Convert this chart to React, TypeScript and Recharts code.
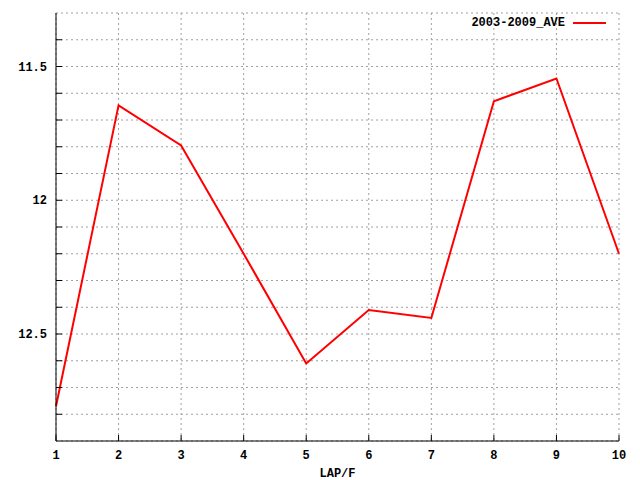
import React from 'react';
import { LineChart, Line, XAxis, YAxis, CartesianGrid } from 'recharts';

const laps = [1, 2, 3, 4, 5, 6, 7, 8, 9, 10];
const aveValues = [12.77, 11.645, 11.795, 12.2, 12.61, 12.41, 12.44, 11.63, 11.545, 12.2];
const seriesName = '2003-2009_AVE';
const yTicks = [11.4, 11.5, 11.6, 11.7, 11.8, 11.9, 12.0, 12.1, 12.2, 12.3, 12.4, 12.5, 12.6, 12.7, 12.8];
const yLabelTicks = [11.5, 12, 12.5];
const xTicks = laps;
const xLabel = 'LAP/F';

const data = laps.map((lap, i) => ({ lap, ave: aveValues[i] }));

const FONT = '"Liberation Mono", "DejaVu Sans Mono", monospace';
const TL = 6;

const fmtY = (v: number) => {
  const r = Math.round(v * 10) / 10;
  return Number.isInteger(r) ? String(r) : r.toFixed(1);
};

const LeftTick = (props: any) => {
  const { x, y, payload } = props;
  const show = yLabelTicks.some((v) => Math.abs(v - payload.value) < 1e-6);
  return (
    <g>
      <line x1={x + 9} x2={x + 9 + TL} y1={y} y2={y} stroke="#000" strokeWidth={1} />
      {show && (
        <text x={x} y={y} dy={4} textAnchor="end" fontFamily={FONT} fontWeight="bold" fontSize={12} fill="#000">
          {fmtY(payload.value)}
        </text>
      )}
    </g>
  );
};

const RightTick = (props: any) => {
  const { x, y } = props;
  return <line x1={x - 9} x2={x - 9 - TL} y1={y} y2={y} stroke="#000" strokeWidth={1} />;
};

const BottomTick = (props: any) => {
  const { x, y, payload } = props;
  return (
    <g>
      <line x1={x} x2={x} y1={y - 9} y2={y - 9 - TL} stroke="#000" strokeWidth={1} />
      <text x={x} y={y} dy={9} textAnchor="middle" fontFamily={FONT} fontWeight="bold" fontSize={12} fill="#000">
        {payload.value}
      </text>
    </g>
  );
};

const TopTick = (props: any) => {
  const { x, y } = props;
  return <line x1={x} x2={x} y1={y + 9} y2={y + 9 + TL} stroke="#000" strokeWidth={1} />;
};

export default function App() {
  return (
    <div style={{ position: 'fixed', left: 0, top: 0, width: 640, height: 480, background: '#fff' }}>
      <LineChart width={640} height={480} data={data} margin={{ top: 13, right: 21, left: 0, bottom: 0 }}>
        <CartesianGrid stroke="#a0a0a0" strokeDasharray="2 3" />
        <XAxis
          dataKey="lap"
          type="number"
          domain={[1, 10]}
          ticks={xTicks}
          height={39}
          tickSize={0}
          tickMargin={9}
          tickLine={false}
          axisLine={{ stroke: '#000', strokeWidth: 1 }}
          tick={<BottomTick />}
          interval={0}
          label={{ value: xLabel, position: 'insideBottom', offset: 3, fontFamily: FONT, fontWeight: 'bold', fontSize: 12, fill: '#000' }}
        />
        <XAxis
          xAxisId="top"
          dataKey="lap"
          type="number"
          orientation="top"
          domain={[1, 10]}
          ticks={xTicks}
          height={0}
          tickSize={0}
          tickMargin={9}
          tickLine={false}
          axisLine={{ stroke: '#000', strokeWidth: 1 }}
          tick={<TopTick />}
          interval={0}
        />
        <YAxis
          type="number"
          domain={[11.3, 12.9]}
          reversed
          ticks={yTicks}
          width={56}
          tickSize={0}
          tickMargin={9}
          tickLine={false}
          axisLine={{ stroke: '#000', strokeWidth: 1 }}
          tick={<LeftTick />}
          interval={0}
          allowDataOverflow
        />
        <YAxis
          yAxisId="right"
          orientation="right"
          type="number"
          domain={[11.3, 12.9]}
          reversed
          ticks={yTicks}
          width={0}
          tickSize={0}
          tickMargin={9}
          tickLine={false}
          axisLine={{ stroke: '#000', strokeWidth: 1 }}
          tick={<RightTick />}
          interval={0}
          allowDataOverflow
        />
        <Line
          dataKey="ave"
          name={seriesName}
          stroke="#ff0000"
          strokeWidth={2}
          dot={false}
          activeDot={false}
          isAnimationActive={false}
          type="linear"
        />
      </LineChart>
      <div
        style={{
          position: 'absolute',
          right: 640 - 607,
          top: 15,
          display: 'flex',
          alignItems: 'center',
          fontFamily: FONT,
          fontWeight: 'bold',
          fontSize: 12,
          lineHeight: '16px',
          color: '#000',
          background: 'transparent',
        }}
      >
        <span>{seriesName}</span>
        <svg width={42} height={16} style={{ display: 'block' }}>
          <line x1={8} x2={41} y1={8} y2={8} stroke="#ff0000" strokeWidth={2} />
        </svg>
      </div>
    </div>
  );
}
